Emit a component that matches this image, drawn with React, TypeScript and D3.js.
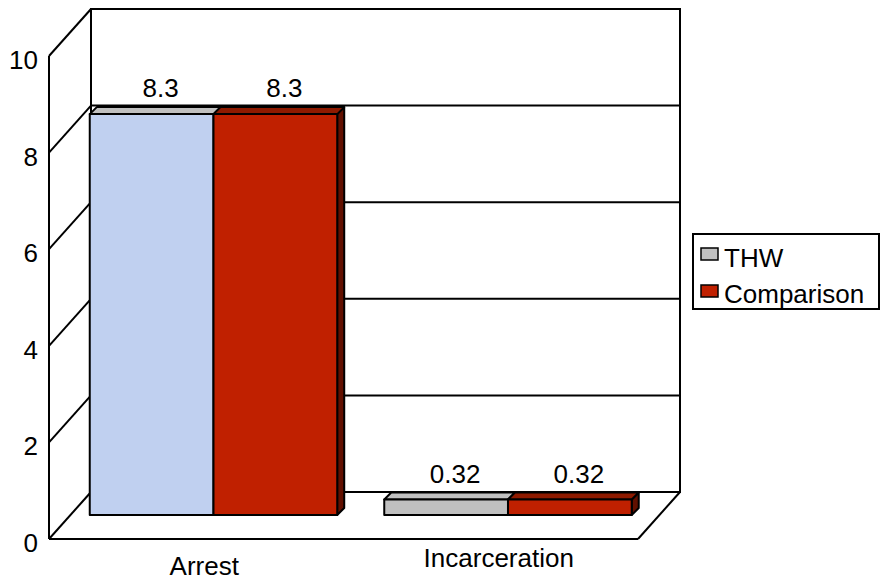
import * as d3 from "d3";

const categories = ["Arrest", "Incarceration"];
const seriesNames = ["THW", "Comparison"];
const thwValues = [8.3, 0.32];
const comparisonValues = [8.3, 0.32];
const valueLabels = [["8.3", "0.32"], ["8.3", "0.32"]];
const yTicks = [0, 2, 4, 6, 8, 10];

// faces: front, top, side
const seriesColors = [
  { front: "#C0C0C0", top: "#C0C0C0", side: "#909090" },
  { front: "#C02000", top: "#8E1A00", side: "#621000" },
];
// Excel point override on the first THW bar
const pointFront: Record<string, string> = { "0-0": "#C0D0F0" };

const W = 881;
const H = 580;
const font = "'Liberation Sans', Arial, sans-serif";
const fs = 26;

export default function App() {
  const origin = { x: 49, y: 539 };
  const wallDx = 42;
  const wallDy = 47;
  const floorRight = 638;

  const y = d3.scaleLinear().domain([0, 10]).range([0, 483]);
  const x0 = d3.scaleBand<string>().domain(categories).range([origin.x, floorRight]);
  const x1 = d3
    .scaleBand<string>()
    .domain(seriesNames)
    .range([0, x0.bandwidth()])
    .paddingInner(0)
    .paddingOuter(0.19)
    .align(0.42);

  // bars sit in the middle of the depth
  const barOff = { x: 21, y: 24 };
  const barDepth = { x: 7, y: 7 };
  const values = [thwValues, comparisonValues];

  const backLeft = origin.x + wallDx;
  const backRight = floorRight + wallDx;
  const backBottom = origin.y - wallDy;
  const backTop = backBottom - y(10);

  const pts = (p: number[][]) => p.map((q) => q.join(",")).join(" ");

  const bars: JSX.Element[] = [];
  const labels: JSX.Element[] = [];
  categories.forEach((cat, ci) => {
    seriesNames.forEach((s, si) => {
      const v = values[si][ci];
      const xl = (x0(cat) ?? 0) + (x1(s) ?? 0) + barOff.x;
      const xr = xl + x1.bandwidth();
      const yb = origin.y - barOff.y;
      const yt = yb - y(v);
      const c = seriesColors[si];
      const front = pointFront[`${si}-${ci}`] ?? c.front;
      bars.push(
        <g key={`${cat}-${s}`} stroke="#000" strokeWidth={2} strokeLinejoin="round">
          <polygon
            points={pts([
              [xr, yt],
              [xr + barDepth.x, yt - barDepth.y],
              [xr + barDepth.x, yb - barDepth.y],
              [xr, yb],
            ])}
            fill={c.side}
          />
          <polygon
            points={pts([
              [xl, yt],
              [xl + barDepth.x, yt - barDepth.y],
              [xr + barDepth.x, yt - barDepth.y],
              [xr, yt],
            ])}
            fill={c.top}
          />
          <rect x={xl} y={yt} width={xr - xl} height={yb - yt} fill={front} />
        </g>
      );
      labels.push(
        <text
          key={`l-${cat}-${s}`}
          x={(xl + xr) / 2 + 9}
          y={yt - barDepth.y - 10}
          textAnchor="middle"
          fontSize={fs}
          fontFamily={font}
          fill="#000"
        >
          {valueLabels[si][ci]}
        </text>
      );
    });
  });

  return (
    <svg
      width={W}
      height={H}
      style={{ position: "absolute", left: 0, top: 0, background: "#fff" }}
    >
      <g stroke="#000" strokeWidth={2} fill="none">
        {/* back wall */}
        <rect x={backLeft} y={backTop} width={backRight - backLeft} height={backBottom - backTop} />
        {yTicks.map((t) => (
          <g key={t}>
            <line x1={backLeft} x2={backRight} y1={backBottom - y(t)} y2={backBottom - y(t)} />
            <line
              x1={origin.x}
              y1={origin.y - y(t)}
              x2={backLeft}
              y2={backBottom - y(t)}
            />
          </g>
        ))}
        {/* front axis and floor */}
        <line x1={origin.x} x2={origin.x} y1={origin.y} y2={origin.y - y(10)} />
        <line x1={origin.x} x2={floorRight} y1={origin.y} y2={origin.y} />
        <line x1={floorRight} y1={origin.y} x2={backRight} y2={backBottom} />
      </g>

      {bars}
      {labels}

      {yTicks.map((t) => (
        <text
          key={`t-${t}`}
          x={38}
          y={origin.y - y(t) + 13}
          textAnchor="end"
          fontSize={fs}
          fontFamily={font}
        >
          {t}
        </text>
      ))}

      {categories.map((cat, i) => (
        <text
          key={`c-${cat}`}
          x={(x0(cat) ?? 0) + x0.bandwidth() / 2 + 8}
          y={i % 2 === 0 ? 575 : 567}
          textAnchor="middle"
          fontSize={fs}
          fontFamily={font}
        >
          {cat}
        </text>
      ))}

      <g>
        <rect x={693} y={234} width={186} height={75} fill="#fff" stroke="#000" strokeWidth={2} />
        {seriesNames.map((s, i) => (
          <g key={`lg-${s}`}>
            <rect
              x={701}
              y={248 + i * 37}
              width={17}
              height={12}
              fill={seriesColors[i].front}
              stroke="#000"
              strokeWidth={1.5}
            />
            <text x={724} y={267 + i * 36} fontSize={fs} fontFamily={font}>
              {s}
            </text>
          </g>
        ))}
      </g>
    </svg>
  );
}
